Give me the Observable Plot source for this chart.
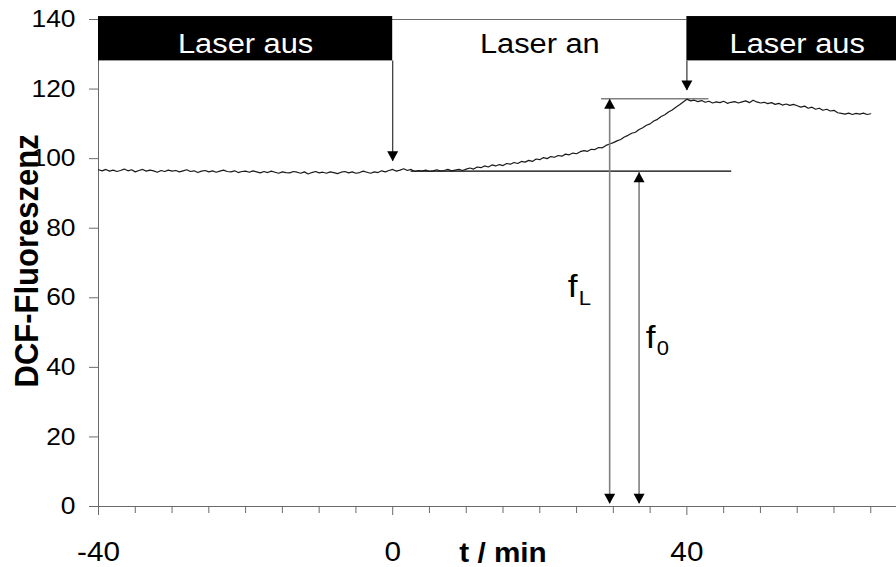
<!DOCTYPE html>
<html><head><meta charset="utf-8">
<script src="https://cdn.jsdelivr.net/npm/d3@7"></script>
<script src="https://cdn.jsdelivr.net/npm/@observablehq/plot@0.6"></script>
<style>body{margin:0;background:#fff} #chart svg{display:block}</style>
</head><body><div id="chart"></div>
<script>
// sampling of the trace
const t0 = -40, dt = 0.5;
// DCF fluorescence, every 0.5 min from -40 to 65
const fluor = [
  96.8, 96.5, 96.9, 96.4, 96.7, 96.3, 96.6, 97.0, 96.5, 96.8, 96.2, 96.6, 96.9, 96.4, 96.7, 96.5, 96.1, 96.6, 96.3, 96.7, 96.4,
  96.6, 96.2, 96.5, 96.8, 96.3, 96.5, 96.0, 96.4, 96.6, 96.2, 96.5, 96.1, 96.4, 96.7, 96.3, 96.2, 96.5, 96.0, 96.3, 96.4,
  96.1, 96.5, 96.2, 95.9, 96.3, 96.0, 96.4, 96.1, 95.8, 96.2, 96.0, 95.9, 96.3, 96.1, 95.8, 96.2, 95.6, 96.0, 96.3, 95.9,
  96.1, 95.8, 96.2, 96.0, 95.7, 96.1, 96.3, 95.9, 96.2, 95.8, 96.0, 96.4, 96.1, 95.8, 96.2, 96.0, 96.5, 96.2, 96.6, 96.9,
  96.4, 96.7, 97.1, 96.6, 96.9, 96.3, 96.6, 96.4, 96.7, 96.3, 96.5, 96.8, 96.4, 96.6, 96.9, 96.5, 96.7, 96.9, 96.6, 97.0,
  97.3, 97.0, 97.6, 97.4, 97.9, 97.6, 98.2, 97.9, 98.3, 98.0, 98.6, 98.4, 98.9, 98.6, 99.2, 99.0, 99.5, 99.2, 99.9, 99.7,
  100.3, 100.0, 100.6, 100.4, 100.9, 100.7, 101.3, 101.1, 101.6, 101.4, 102.0, 102.3, 102.1, 102.7, 102.6, 103.2, 103.1, 103.8, 104.2, 104.6,
  105.1, 105.5, 106.2, 106.7, 107.3, 107.6, 108.4, 108.9, 109.6, 110.0, 110.8, 111.3, 112.1, 112.6, 113.4, 114.0, 114.8, 115.5, 116.3, 117.1,
  116.6, 116.8, 116.4, 116.7, 116.2, 116.5, 116.0, 116.3, 116.1, 116.5, 115.9, 116.2, 116.4, 116.0, 116.3, 116.6, 116.1, 116.8, 116.3, 116.0,
  116.2, 115.8, 116.1, 115.6, 115.9, 115.4, 115.7, 115.3, 115.6, 115.2, 114.8, 115.1, 114.5, 114.8, 114.2, 114.5, 113.9, 114.2, 113.7, 113.9,
  113.2, 113.0, 112.8, 113.1, 112.7, 113.0, 112.8, 113.1, 112.7, 112.9
];

// laser phases
const phaseLabels = ["Laser aus", "Laser an", "Laser aus"];
const phaseStart = [-40, 0, 40];
const phaseEnd = [0, 40, 68.5];
const phaseOn = [false, true, false];
const phaseLabelAt = [-20, 20, 55];

// switching arrows (time of switch, value at arrow tip)
const switchTimes = [0, 40];
const switchTips = [99.25, 119.6];

// measurement levels
const levelNames = ["L", "0"];
const levelValues = [117.2, 96.4];
const levelFrom = [28.4, 2.5];
const levelTo = [43.0, 46.1];
const measureTimes = [29.5, 33.5];
const measureTopTips = [117.2, 96.1];

// axes
const yTicks = [0, 20, 40, 60, 80, 100, 120, 140];
const xMajorTicks = [-40, 0, 40];
const xMajorLabels = ["-40", "0", "40"];
const xMinorTicks = [-35, -30, -25, -20, -15, -10, -5, 5, 10, 15, 20, 25, 30, 35, 45, 50, 55, 60, 65];
const xTitle = "t / min";
const yTitle = "DCF-Fluoreszenz";

// annotations for f_L and f_0 labels (data coordinates)
const fLabelX = [23.8, 34.4];
const fLabelY = [60.2, 45.6];
const subLabelX = [25.3, 35.9];
const subLabelY = [57.9, 43.6];

const series = fluor.map((v, i) => ({t: t0 + i * dt, v}));
const phases = phaseLabels.map((label, i) => ({label, start: phaseStart[i], end: phaseEnd[i], on: phaseOn[i], mid: phaseLabelAt[i]}));
const switches = switchTimes.map((t, i) => ({t, tip: switchTips[i]}));
const levels = levelNames.map((n, i) => ({n, v: levelValues[i], from: levelFrom[i], to: levelTo[i], t: measureTimes[i], top: measureTopTips[i]}));
const fLabels = levelNames.map((n, i) => ({n, x: fLabelX[i], y: fLabelY[i], sx: subLabelX[i], sy: subLabelY[i]}));

const arrowDown = {draw(ctx) { ctx.moveTo(0, 0); ctx.lineTo(-5.5, -10); ctx.lineTo(5.5, -10); ctx.closePath(); }};
const arrowUp = {draw(ctx) { ctx.moveTo(0, 0); ctx.lineTo(-5.5, 10); ctx.lineTo(5.5, 10); ctx.closePath(); }};

const boxTop = 140.85, boxBottom = 128.1, bottomTip = 0.8;
const axisColor = "#6a6a6a";

const chart = Plot.plot({
  width: 896, height: 567,
  marginLeft: 98, marginRight: 0, marginTop: 19, marginBottom: 61,
  style: {fontFamily: "'Liberation Sans', Arial, sans-serif", background: "white", color: "black", overflow: "visible"},
  x: {domain: [-40, 68.5]},
  y: {domain: [0, 140]},
  marks: [
    // frame lines
    Plot.ruleX([-40], {y1: 0, y2: 140, stroke: axisColor}),
    Plot.ruleY([0], {stroke: axisColor}),
    Plot.ruleY([140], {x1: -40, x2: 40, stroke: axisColor}),
    // axes
    Plot.axisY({ticks: yTicks, tickSize: 9, tickPadding: 14, fontSize: 24, stroke: axisColor, fill: "black", label: null}),
    Plot.axisX({ticks: xMinorTicks, tickSize: 7, tickFormat: () => "", stroke: axisColor, label: null}),
    Plot.axisX({ticks: xMajorTicks, tickSize: 9, tickPadding: 26, fontSize: 27, stroke: axisColor, fill: "black", label: null,
      tickFormat: (d) => xMajorLabels[xMajorTicks.indexOf(d)]}),
    Plot.text([xTitle], {x: 15, y: 0, text: d => d, dy: 55, lineAnchor: "bottom", fontSize: 27, fontWeight: "bold", fill: "black"}),
    Plot.text([yTitle], {frameAnchor: "left", y: 70.6, dx: -61, text: d => d, rotate: -90, lineAnchor: "bottom", textAnchor: "middle", fontSize: 31, fontWeight: "bold", fill: "black"}),
    // phase boxes
    Plot.rectY(phases.filter(d => !d.on), {x1: "start", x2: "end", y1: boxBottom, y2: boxTop, fill: "black"}),
    Plot.text(phases, {x: "mid", y: 130.5, text: "label", lineAnchor: "bottom", fontSize: 28, fill: d => d.on ? "black" : "white"}),
    // switch arrows
    Plot.ruleX(switches, {x: "t", y1: boxBottom, y2: "tip", stroke: "#333", strokeWidth: 1.2}),
    Plot.dot(switches, {x: "t", y: "tip", symbol: arrowDown, r: 5, fill: "black", stroke: "none"}),
    // level lines
    Plot.ruleY(levels, {y: "v", x1: "from", x2: "to", stroke: d => d.n === "L" ? "#808080" : "black", strokeWidth: 1.4}),
    // trace
    Plot.line(series, {x: "t", y: "v", stroke: "#1a1a1a", strokeWidth: 1.2}),
    // measurement arrows
    Plot.ruleX(levels, {x: "t", y1: bottomTip, y2: "top", stroke: "#808080", strokeWidth: 1.6}),
    Plot.dot(levels, {x: "t", y: "top", symbol: arrowUp, r: 5, fill: "black", stroke: "none"}),
    Plot.dot(levels, {x: "t", y: bottomTip, symbol: arrowDown, r: 5, fill: "black", stroke: "none"}),
    // f labels
    Plot.text(fLabels, {x: "x", y: "y", text: () => "f", textAnchor: "start", lineAnchor: "bottom", fontSize: 32, fill: "black"}),
    Plot.text(fLabels, {x: "sx", y: "sy", text: "n", textAnchor: "start", lineAnchor: "bottom", fontSize: 20, fill: "black"})
  ]
});

// the reference glyphs are slightly wider than tall: stretch text horizontally
chart.querySelectorAll("text").forEach(el => {
  const tr = el.getAttribute("transform") || "";
  if (/rotate/.test(tr)) {
    el.setAttribute("transform", tr + " scale(1,1.1)");
  } else {
    const x = +(el.getAttribute("x") || 0);
    el.setAttribute("transform", (tr + ` translate(${x},0) scale(1.1,1) translate(${-x},0)`).trim());
  }
});
document.getElementById("chart").append(chart);
</script>
</body></html>
